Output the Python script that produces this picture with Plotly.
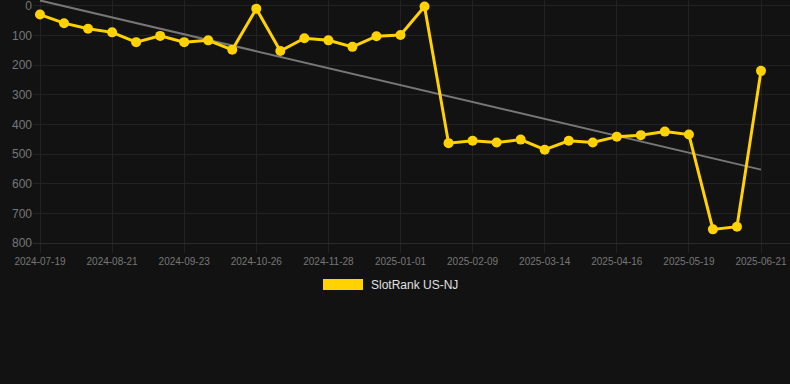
import numpy as np
import plotly.graph_objects as go

dates = ["2024-07-19", "2024-07-30", "2024-08-10", "2024-08-21", "2024-09-01", "2024-09-12",
         "2024-09-23", "2024-10-04", "2024-10-15", "2024-10-26", "2024-11-06", "2024-11-17",
         "2024-11-28", "2024-12-09", "2024-12-20", "2025-01-01", "2025-01-14", "2025-01-27",
         "2025-02-09", "2025-02-20", "2025-03-03", "2025-03-14", "2025-03-25", "2025-04-05",
         "2025-04-16", "2025-04-27", "2025-05-08", "2025-05-19", "2025-05-30", "2025-06-10",
         "2025-06-21"]
rank = [29, 58, 77, 89, 122, 101, 122, 116, 148, 9, 152, 109, 116, 138, 102, 98, 2,
        463, 455, 461, 451, 485, 455, 461, 441, 436, 424, 434, 754, 745, 219]
tick_labels = dates[::3]
y_ticks = [0, 100, 200, 300, 400, 500, 600, 700, 800]
series_name = "SlotRank US-NJ"

idx = np.arange(len(rank))
slope, intercept = np.polyfit(idx, rank, 1)
trend = [intercept, intercept + slope * idx[-1]]

L, R, T, B = 33, 0, 0, 141
W, H = 790, 384
pw = W - L - R
ph = H - T - B

fig = go.Figure()
fig.add_trace(go.Scatter(x=[0, len(rank) - 1], y=trend, mode="lines",
                         line=dict(color="#777777", width=2), hoverinfo="skip",
                         showlegend=False, cliponaxis=False))
fig.add_trace(go.Scatter(x=list(idx), y=rank, mode="lines+markers", name=series_name,
                         line=dict(color="#FFD200", width=3),
                         marker=dict(color="#FFD200", size=10), showlegend=False,
                         text=dates, cliponaxis=False))

upp = (len(rank) - 1) / 721.0
fig.update_xaxes(range=[-7 * upp, (len(rank) - 1) + 29 * upp], automargin=False,
                 tickmode="array", tickvals=list(idx[::3]), ticktext=tick_labels,
                 showgrid=True, gridcolor="#222222", gridwidth=1, zeroline=False,
                 ticks="outside", ticklen=9, tickcolor="#222222",
                 ticklabeloverflow="allow",
                 tickfont=dict(family="Liberation Sans, Arial", size=10, color="#777777"),
                 showline=True, linecolor="#2a2a2a", linewidth=1)
fig.update_yaxes(range=[800, -20.2], tickmode="array", tickvals=y_ticks, automargin=False,
                 showgrid=True, gridcolor="#222222", gridwidth=1, zeroline=False,
                 ticklabeloverflow="allow",
                 tickfont=dict(family="Liberation Sans, Arial", size=12, color="#777777"),
                 ticks="", showline=False)

def px_x(p):
    return (p - L) / pw

def px_y(p):
    return (H - B - p) / ph

fig.add_shape(type="rect", xref="paper", yref="paper",
              x0=px_x(323), x1=px_x(363), y0=px_y(290), y1=px_y(279),
              fillcolor="#FFD200", line=dict(width=0))
fig.add_annotation(xref="paper", yref="paper", x=px_x(369), y=px_y(284.5),
                   text=series_name, showarrow=False, xanchor="left", yanchor="middle",
                   font=dict(family="Liberation Sans, Arial", size=12, color="#e0e0e0"))

fig.update_layout(width=W, height=H, margin=dict(l=L, r=R, t=T, b=B),
                  paper_bgcolor="#121212", plot_bgcolor="#121212", showlegend=False)
fig.write_html("out.html", config={"displayModeBar": False},
               post_script="document.body.style.margin='0';document.body.style.background='#121212';document.body.style.overflow='hidden';")
